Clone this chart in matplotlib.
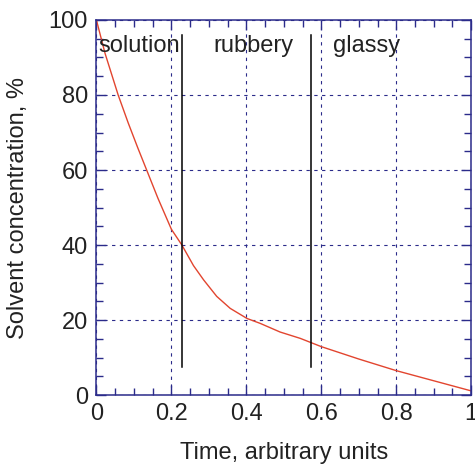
import matplotlib
matplotlib.use("Agg")
import matplotlib.pyplot as plt
from matplotlib.ticker import MultipleLocator

plt.rcParams["font.family"] = ["Liberation Sans", "DejaVu Sans"]

# Data
time = [0.0, 0.023, 0.058, 0.085, 0.11, 0.134, 0.164, 0.2, 0.228,
        0.259, 0.286, 0.321, 0.357, 0.402, 0.437, 0.49, 0.544, 0.572,
        0.6, 0.7, 0.8, 0.9, 1.0]
conc = [100, 91.1, 80, 72.5, 66, 60, 52.5, 44.2, 40,
        34.5, 30.7, 26.3, 23.1, 20.4, 19.1, 16.8, 15.1, 14,
        12.9, 9.6, 6.5, 3.8, 1.1]

# phase boundaries (solid black lines)
bounds = [0.229, 0.572]
bound_y = [7.5, 96]

regions = ["solution", "rubbery", "glassy"]
region_x = [0.006, 0.313, 0.63]
region_y = 93

navy = "#2b2b8a"
red = "#e2452f"

fig = plt.figure(figsize=(4.75, 4.65), dpi=100)
ax = fig.add_axes([0.203, 0.1505, 0.789, 0.8065])

ax.plot(time, conc, color=red, lw=1.0)
for b in bounds:
    ax.plot([b, b], bound_y, color="black", lw=1.1)
for name, x in zip(regions, region_x):
    ax.text(x, region_y, name, fontsize=17, va="center", ha="left",
            color="#222222")

ax.set_xlim(0, 1)
ax.set_ylim(0, 100)
ax.xaxis.set_major_locator(MultipleLocator(0.2))
ax.xaxis.set_minor_locator(MultipleLocator(0.05))
ax.yaxis.set_major_locator(MultipleLocator(20))
ax.yaxis.set_minor_locator(MultipleLocator(5))
ax.set_xticks([0, 0.2, 0.4, 0.6, 0.8, 1.0])
ax.set_xticklabels(["0", "0.2", "0.4", "0.6", "0.8", "1"])

ax.grid(True, which="major", color=navy, ls=(0, (3, 4)), lw=0.8)
ax.tick_params(which="both", direction="in", top=True, right=True,
               color=navy, labelsize=17, labelcolor="#222222", pad=6)
ax.tick_params(which="major", length=7, width=1)
ax.tick_params(which="minor", length=5, width=1)
for s in ax.spines.values():
    s.set_color(navy)
    s.set_linewidth(1.1)

ax.set_xlabel("Time, arbitrary units", fontsize=17, labelpad=12, color="#222222")
ax.set_ylabel("Solvent concentration, %", fontsize=17, labelpad=14, color="#222222")

fig.savefig("out.png", dpi=100)
